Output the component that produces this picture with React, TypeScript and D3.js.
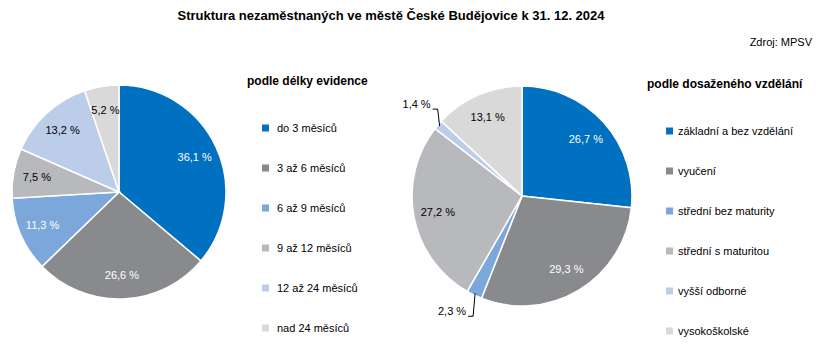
import React from "react";
import * as d3 from "d3";

const title = "Struktura nezaměstnaných ve městě České Budějovice k 31. 12. 2024";
const source = "Zdroj: MPSV";

const leftTitle = "podle délky evidence";
const leftCategories = ["do 3 měsíců", "3 až 6 měsíců", "6 až 9 měsíců", "9 až 12 měsíců", "12 až 24 měsíců", "nad 24 měsíců"];
const leftValues = [36.1, 26.6, 11.3, 7.5, 13.2, 5.2];

const rightTitle = "podle dosaženého vzdělání";
const rightCategories = ["základní a bez vzdělání", "vyučení", "střední bez maturity", "střední s maturitou", "vyšší odborné", "vysokoškolské"];
const rightValues = [26.7, 29.3, 2.3, 27.2, 1.4, 13.1];

const colors = ["#0070c0", "#898a8e", "#7ba7da", "#b8b9bd", "#bccdea", "#d9d9d9"];
const labelColors = ["#ffffff", "#ffffff", "#ffffff", "#000000", "#000000", "#000000"];

const FONT = "'Liberation Sans', Arial, sans-serif";

const fmt = (v: number) => v.toFixed(1).replace(".", ",") + " %";

function Pie({ cx, cy, r, values }: { cx: number; cy: number; r: number; values: number[] }) {
  const pie = d3.pie<number>().sort(null).value((d) => d);
  const arcs = pie(values);
  const arc = d3.arc<d3.PieArcDatum<number>>().innerRadius(0).outerRadius(r);
  const labelArc = d3.arc<d3.PieArcDatum<number>>().innerRadius(r * 0.78).outerRadius(r * 0.78);
  return (
    <g transform={`translate(${cx},${cy})`}>
      {arcs.map((a, i) => (
        <path key={i} d={arc(a) || ""} fill={colors[i]} stroke="#ffffff" strokeWidth={1.5} />
      ))}
      {arcs.map((a, i) => {
        const mid = (a.startAngle + a.endAngle) / 2;
        if (a.value < 3) {
          const ox = Math.sin(mid) * (r - 2);
          const oy = -Math.cos(mid) * (r - 2);
          const ey = oy + (oy > 0 ? 23 : -17);
          const ex = ox - 2;
          const tx = ex - 5;
          return (
            <g key={"l" + i}>
              <polyline points={`${ox},${oy} ${ex},${ey} ${tx},${ey}`} fill="none" stroke="#000" strokeWidth={1} />
              <text x={tx - 2} y={ey - 5} dy="0.35em" textAnchor="end" fontSize={11} fontFamily={FONT} fill="#000">
                {fmt(a.value)}
              </text>
            </g>
          );
        }
        const [lx, ly] = labelArc.centroid(a);
        return (
          <text key={"l" + i} x={lx} y={ly} dy="0.35em" textAnchor="middle" fontSize={11} fontFamily={FONT} fill={labelColors[i]}>
            {fmt(a.value)}
          </text>
        );
      })}
    </g>
  );
}

function Legend({ x, y, titleText, cats, sqX, txtX, step }: { x: number; y: number; titleText: string; cats: string[]; sqX: number; txtX: number; step: number }) {
  return (
    <g>
      <text x={x} y={y} fontSize={12} fontWeight="bold" fontFamily={FONT} fill="#000">
        {titleText}
      </text>
      {cats.map((c, i) => (
        <g key={i} transform={`translate(0,${y + 43 + i * step})`}>
          <rect x={sqX} y={-3.5} width={7} height={7} fill={colors[i]} />
          <text x={txtX} y={0} dy="0.35em" fontSize={11} fontFamily={FONT} fill="#000">
            {c}
          </text>
        </g>
      ))}
    </g>
  );
}

export default function App() {
  return (
    <svg width={825} height={361} style={{ position: "absolute", left: 0, top: 0, background: "#fff" }}>
      <rect width={825} height={361} fill="#fff" />
      <text x={391} y={20} textAnchor="middle" fontSize={13} fontWeight="bold" fontFamily={FONT} fill="#000">
        {title}
      </text>
      <text x={812} y={46} textAnchor="end" fontSize={11} fontFamily={FONT} fill="#000">
        {source}
      </text>
      <Pie cx={119} cy={192} r={107} values={leftValues} />
      <Pie cx={522} cy={196} r={110} values={rightValues} />
      <Legend x={247} y={85} titleText={leftTitle} cats={leftCategories} sqX={262} txtX={277} step={40} />
      <Legend x={647} y={88} titleText={rightTitle} cats={rightCategories} sqX={666} txtX={678} step={40} />
    </svg>
  );
}
